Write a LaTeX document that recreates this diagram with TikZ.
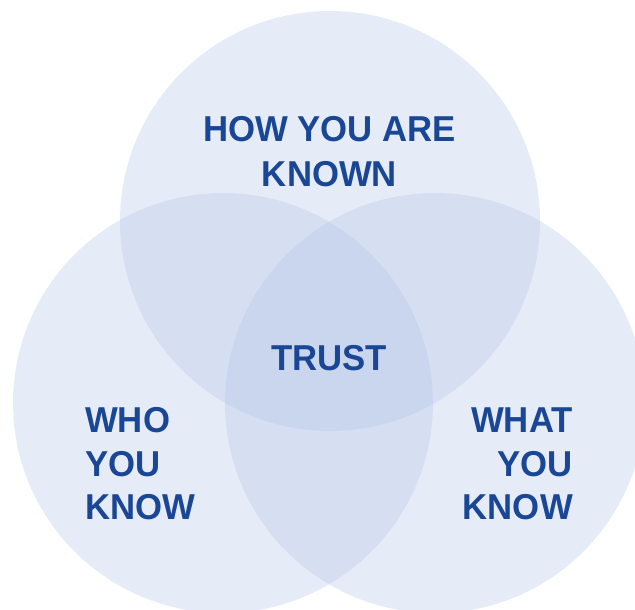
\documentclass[tikz,border=0pt]{standalone}
\usepackage{fontspec}
\setmainfont{Liberation Sans}
\definecolor{circfill}{RGB}{177,196,230}
\definecolor{labelblue}{RGB}{26,70,150}
\begin{document}
\begin{tikzpicture}[x=1pt,y=-1pt,
  venn/.style={fill=circfill,fill opacity=0.32,draw=none},
  lbl/.style={text=labelblue,font=\fontsize{36}{44}\selectfont\bfseries,inner sep=0pt,xscale=0.965,transform shape}]
\useasboundingbox (0,0) rectangle (635,610);
\clip (0,0) rectangle (635,610);
\fill[venn] (330,221) circle[radius=210];
\fill[venn] (223,403) circle[radius=210];
\fill[venn] (435,403) circle[radius=210];
\node[lbl,anchor=base] (t1) at (329.5,142) {HOW YOU ARE};
\node[lbl,anchor=base] (t2) at (329.5,186) {KNOWN};
\node[lbl,anchor=base] (c1) at (329,370) {TRUST};
\node[lbl,anchor=base west] (l1) at (85,432) {WHO};
\node[lbl,anchor=base west] (l2) at (85,476) {YOU};
\node[lbl,anchor=base west] (l3) at (85,519.5) {KNOW};
\node[lbl,anchor=base east] (r1) at (573,432) {WHAT};
\node[lbl,anchor=base east] (r2) at (573,476) {YOU};
\node[lbl,anchor=base east] (r3) at (573,519.5) {KNOW};
\end{tikzpicture}
\end{document}
